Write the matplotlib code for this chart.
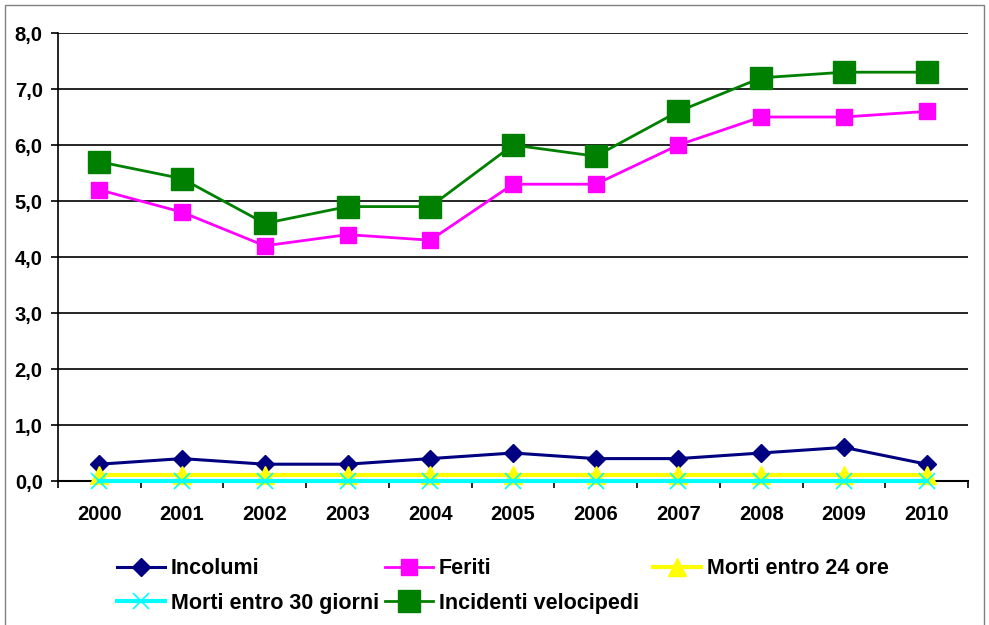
import numpy as np
import matplotlib.pyplot as plt
from matplotlib.patches import Rectangle

plt.rcParams['font.family'] = ['Liberation Sans', 'DejaVu Sans']

anni = ['2000', '2001', '2002', '2003', '2004', '2005', '2006', '2007', '2008', '2009', '2010']
incolumi = [0.3, 0.4, 0.3, 0.3, 0.4, 0.5, 0.4, 0.4, 0.5, 0.6, 0.3]
feriti = [5.2, 4.8, 4.2, 4.4, 4.3, 5.3, 5.3, 6.0, 6.5, 6.5, 6.6]
morti_24 = [0.1, 0.1, 0.1, 0.1, 0.1, 0.1, 0.1, 0.1, 0.1, 0.1, 0.1]
morti_30 = [0.0, 0.0, 0.0, 0.0, 0.0, 0.0, 0.0, 0.0, 0.0, 0.0, 0.0]
incidenti = [5.7, 5.4, 4.6, 4.9, 4.9, 6.0, 5.8, 6.6, 7.2, 7.3, 7.3]

fig = plt.figure(figsize=(9.89, 6.25), dpi=100)
ax = fig.add_axes([0.0586, 0.2304, 0.9202, 0.7168])

x = np.arange(len(anni))
l1, = ax.plot(x, incolumi, color='#000080', marker='D', markersize=9, lw=2.2, label='Incolumi', clip_on=False, zorder=4)
l2, = ax.plot(x, feriti, color='#FF00FF', marker='s', markersize=12, lw=2, label='Feriti', clip_on=False, zorder=4)
l3, = ax.plot(x, morti_24, color='#FFFF00', marker='^', markersize=13, lw=3, label='Morti entro 24 ore', clip_on=False, zorder=5)
l4, = ax.plot(x, morti_30, color='#00FFFF', marker='x', markersize=11, mew=1.2, lw=3, label='Morti entro 30 giorni', clip_on=False, zorder=6)
l5, = ax.plot(x, incidenti, color='#008000', marker='s', markersize=16, lw=2, label='Incidenti velocipedi', clip_on=False, zorder=4)

ax.set_xlim(-0.5, len(anni) - 0.5)
ax.set_ylim(0, 8)
ax.set_yticks(np.arange(0, 9, 1))
ax.set_yticklabels([f'{v:.1f}'.replace('.', ',') for v in range(9)])
ax.set_xticks(x)
ax.set_xticklabels(anni)
ax.set_xticks(np.arange(-0.5, len(anni), 1), minor=True)
ax.tick_params(axis='x', which='major', length=0, pad=17)
ax.tick_params(axis='x', which='minor', length=5, width=1.2, direction='out')
ax.tick_params(axis='y', length=5, width=1.2, pad=6)
for lab in ax.get_xticklabels() + ax.get_yticklabels():
    lab.set_fontsize(14.5)
    lab.set_fontweight('bold')

ax.grid(axis='y', color='black', lw=1.2)
ax.set_axisbelow(True)
for s in ['top', 'right']:
    ax.spines[s].set_visible(False)
ax.spines['left'].set_linewidth(1.2)
ax.spines['bottom'].set_linewidth(1.5)

# legend entries placed like the Excel grid (columns may overlap)
slots = [(l1, 117, 569), (l2, 385, 569), (l3, 653, 569), (l4, 117, 603), (l5, 385, 603)]
for h, px, py in slots:
    leg = fig.legend([h], [h.get_label()], loc='center left',
                     bbox_to_anchor=(px / 989, 1 - py / 625), frameon=False,
                     borderpad=0, borderaxespad=0,
                     prop={'size': 15.5, 'weight': 'bold'}, handlelength=2.25,
                     handletextpad=0.25)

fig.patches.append(Rectangle((0.005, -0.01), 0.99, 1.002, transform=fig.transFigure,
                             fill=False, edgecolor='#808080', lw=1))

fig.savefig('out.png', dpi=100)
